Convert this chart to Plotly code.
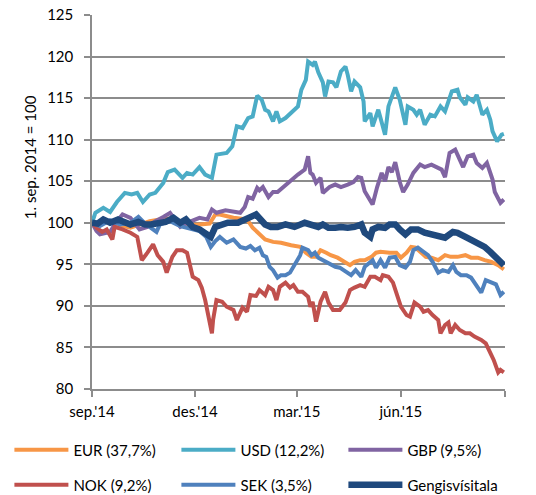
import pandas as pd
import plotly.graph_objects as go

START = "2014-09-01"

# Each series: days after 1 Sep 2014, and index value (1. sep. 2014 = 100)
eur_days = [0,7,16,25,34,42,51,60,69,78,87,95,104,109,113,125,137,142,147,153,160,167,176,184,189,194,198,202,207,211,217,224,228,232,237,241,247,251,255,263,269,273,278,282,286,291,295,300,306,312,317,323,330,335,341,347,353,359,364]
eur_vals = [100.0,99.8,100.2,99.7,99.4,99.8,100.2,100.4,100.5,100.0,99.7,99.8,99.9,101.0,101.0,100.6,100.4,99.4,98.8,98.0,97.7,97.6,97.3,97.1,96.4,95.9,95.9,96.7,96.4,96.1,95.8,95.3,94.9,95.3,95.5,95.5,95.9,96.4,96.5,96.4,96.4,95.8,96.4,97.1,97.0,96.4,95.9,95.8,95.5,96.1,95.9,95.9,96.1,95.8,95.8,95.5,95.3,94.9,94.4]

usd_days = [0,3,10,16,22,29,35,40,45,51,56,63,67,73,80,84,89,95,100,106,110,119,124,128,133,138,142,146,150,153,156,160,163,166,171,178,182,185,189,191,195,197,200,204,206,209,213,216,220,224,226,229,232,237,240,241,246,248,253,259,262,268,272,277,279,284,287,290,294,299,303,308,312,318,323,325,330,332,337,340,345,349,352,354,358,362,364]
usd_vals = [100.0,101.2,101.8,101.3,102.5,103.6,103.4,103.6,102.5,103.4,103.6,104.8,106.1,106.4,105.4,106.0,105.8,106.7,105.8,105.4,108.2,108.4,109.2,111.6,111.4,112.6,112.8,115.3,114.8,113.6,113.4,112.2,113.4,112.2,112.6,113.4,114.0,116.0,117.2,119.4,119.0,119.4,118.1,116.9,115.2,117.0,116.9,116.3,118.2,118.8,117.8,115.8,117.0,116.3,114.6,112.2,113.2,111.6,113.6,110.6,114.0,116.3,114.8,111.8,114.0,113.6,113.0,113.6,111.8,113.0,112.8,114.0,113.4,115.8,116.0,115.1,114.2,115.1,114.6,115.4,113.0,113.6,112.4,111.0,109.8,110.6,110.7]

gbp_days = [0,4,7,16,22,27,34,42,49,56,63,69,78,84,95,102,106,110,118,125,131,135,138,142,146,148,151,156,160,164,169,173,178,182,188,191,193,195,198,202,204,207,210,215,220,226,231,235,238,241,246,248,252,256,259,262,265,268,272,275,279,284,290,294,300,305,309,312,316,321,325,328,332,337,340,345,349,354,356,361,364]
gbp_vals = [100.0,99.0,98.6,98.9,100.2,101.0,100.6,99.2,99.5,100.2,100.7,101.2,99.5,100.0,100.6,100.4,101.6,101.2,101.5,101.3,101.2,101.9,103.1,102.9,104.2,103.9,104.3,103.1,103.7,103.7,104.3,104.8,105.4,105.8,106.4,108.0,106.0,105.8,104.8,105.4,103.6,104.0,104.3,104.6,104.3,104.6,104.9,105.5,105.4,103.8,102.8,102.2,104.3,106.0,105.0,106.7,106.1,107.3,104.9,103.7,104.6,106.0,107.0,106.7,107.0,106.7,106.4,105.5,108.4,108.8,107.6,106.7,108.0,108.2,107.2,106.6,107.2,105.2,103.7,102.4,102.8]

nok_days = [0,4,9,13,18,20,27,34,40,44,49,54,58,63,66,71,75,80,84,87,89,94,97,100,103,106,107,110,115,119,125,128,133,137,140,145,148,153,156,160,163,166,171,175,178,182,186,191,193,195,198,202,206,209,213,219,224,228,232,237,241,246,250,255,257,262,266,270,273,278,281,285,290,293,297,301,306,308,312,315,317,321,325,330,334,338,344,348,352,355,359,361,364]
nok_vals = [100.0,99.4,98.9,99.2,98.0,99.5,99.2,98.8,98.3,95.5,96.4,97.4,96.1,95.3,94.0,95.9,96.7,96.7,96.4,94.7,93.5,93.1,92.2,90.7,88.7,86.7,88.3,90.7,90.5,89.9,89.5,88.3,89.8,89.3,91.3,91.2,91.9,91.3,92.3,91.9,90.7,92.3,92.8,92.2,92.5,91.7,91.7,91.1,89.9,90.5,88.1,90.5,91.7,90.4,89.5,89.5,90.4,91.9,92.2,92.5,92.3,93.5,93.5,93.1,93.7,93.5,92.8,91.1,89.9,88.9,88.7,90.4,89.9,89.3,89.5,88.9,88.3,86.7,87.7,88.0,86.7,87.7,87.1,86.7,86.7,86.3,85.9,85.5,84.3,83.5,82.0,82.3,82.0]

sek_days = [0,7,16,25,34,41,47,52,57,60,69,78,87,95,101,105,109,113,119,125,131,136,140,144,148,151,154,157,160,164,167,171,175,178,180,184,186,191,194,197,200,204,209,215,219,224,229,233,238,241,248,251,255,259,263,268,272,277,281,284,288,293,297,301,306,310,315,319,322,326,331,335,339,344,348,353,357,361,364]
sek_vals = [100.0,99.6,100.3,99.8,100.0,100.7,99.9,99.4,98.9,99.8,100.2,99.6,99.3,99.0,98.3,97.1,97.8,98.3,97.6,98.0,97.1,96.9,97.2,96.7,97.0,96.1,95.9,94.7,94.3,93.4,93.7,93.7,94.0,94.7,95.3,96.1,97.0,96.7,96.1,96.4,95.8,95.5,95.2,94.7,94.6,94.1,93.7,94.3,93.5,94.7,95.5,94.6,95.5,94.6,95.8,95.9,94.9,94.6,95.3,96.7,97.0,96.5,96.1,95.3,94.0,94.3,94.1,94.9,94.1,93.7,93.7,93.4,92.5,91.6,93.1,92.8,92.6,91.3,91.7]

idx_days = [0,5,10,16,23,29,34,41,47,52,58,65,72,78,83,89,95,101,105,109,114,120,129,135,141,145,149,153,158,164,171,179,188,194,200,204,209,215,220,226,232,238,241,246,248,253,259,263,268,272,277,282,288,294,300,306,312,319,323,330,335,341,347,352,356,361,364]
idx_vals = [100.0,99.9,100.4,100.0,100.4,100.1,99.8,100.1,99.8,99.8,100.0,100.1,100.6,100.0,100.4,99.5,99.2,98.6,98.3,99.5,99.8,100.0,100.0,100.4,100.7,101.0,100.4,99.8,99.5,99.5,99.8,99.5,100.0,99.8,99.5,99.8,99.4,99.4,99.5,99.4,99.5,99.8,98.8,98.3,99.2,99.5,99.4,99.8,99.8,99.2,98.6,99.2,99.2,98.8,98.6,98.3,98.2,98.9,98.8,98.3,98.0,97.6,97.1,96.5,95.9,95.3,94.9]

series = [
    ("EUR (37,7%)", eur_days, eur_vals, "#F79646", 4, "legend"),
    ("USD (12,2%)", usd_days, usd_vals, "#4BACC6", 4, "legend"),
    ("GBP (9,5%)", gbp_days, gbp_vals, "#8064A2", 4, "legend"),
    ("NOK (9,2%)", nok_days, nok_vals, "#C0504D", 4, "legend2"),
    ("SEK (3,5%)", sek_days, sek_vals, "#4F81BD", 4, "legend2"),
    ("Gengisvísitala", idx_days, idx_vals, "#1F497D", 6.5, "legend2"),
]

tick_dates = ["2014-09-01", "2014-12-01", "2015-03-01", "2015-06-01", "2015-09-01"]
tick_text = ["sep.'14", "des.'14", "mar.'15", "jún.'15", ""]
y_ticks = [80, 85, 90, 95, 100, 105, 110, 115, 120, 125]

FONT = "Lato"
fig = go.Figure()
start = pd.Timestamp(START)
for name, days, vals, color, width, leg in series:
    dates = start + pd.to_timedelta(days, unit="D")
    fig.add_trace(go.Scatter(
        x=dates, y=vals, mode="lines", name=name,
        line=dict(color=color, width=width),
        legend=leg,
    ))

legend_common = dict(
    orientation="h", xanchor="left", yanchor="middle",
    entrywidth=98, entrywidthmode="pixels", itemwidth=54,
    font=dict(family=FONT, size=15, color="#000000"),
    bgcolor="rgba(0,0,0,0)", borderwidth=0, tracegroupgap=0,
)

fig.update_layout(
    width=536, height=495,
    margin=dict(l=92, r=31, t=15, b=106, autoexpand=False),
    paper_bgcolor="white", plot_bgcolor="white",
    font=dict(family=FONT, size=15, color="#000000"),
    showlegend=True,
    legend=dict(x=-0.2, y=-0.163, **legend_common),
    legend2=dict(x=-0.2, y=-0.257, **legend_common),
    xaxis=dict(
        type="date", range=["2014-09-01", "2015-09-01"],
        tickvals=tick_dates, ticktext=tick_text,
        showgrid=False, showline=True, linecolor="#8c8c8c", linewidth=1.5,
        ticks="outside", ticklen=6, tickcolor="#8c8c8c", tickwidth=1.5,
        ticklabelstandoff=2,
        tickfont=dict(family=FONT, size=15), zeroline=False,
    ),
    yaxis=dict(
        range=[80, 125], tickvals=y_ticks,
        showgrid=True, gridcolor="#8c8c8c", gridwidth=1.5,
        showline=True, linecolor="#8c8c8c", linewidth=1.5,
        ticks="outside", ticklen=6, tickcolor="#8c8c8c", tickwidth=1.5,
        ticklabelstandoff=8,
        tickfont=dict(family=FONT, size=15), zeroline=False,
    ),
    annotations=[dict(
        text="1. sep. 2014 = 100", textangle=-90,
        xref="paper", yref="paper", x=-0.15, y=0.62,
        xanchor="center", yanchor="middle", showarrow=False,
        font=dict(family=FONT, size=15, color="#000000"),
    )],
)

fig.write_html(
    "out.html",
    config={"displayModeBar": False},
    post_script="document.body.style.margin='0';",
)
